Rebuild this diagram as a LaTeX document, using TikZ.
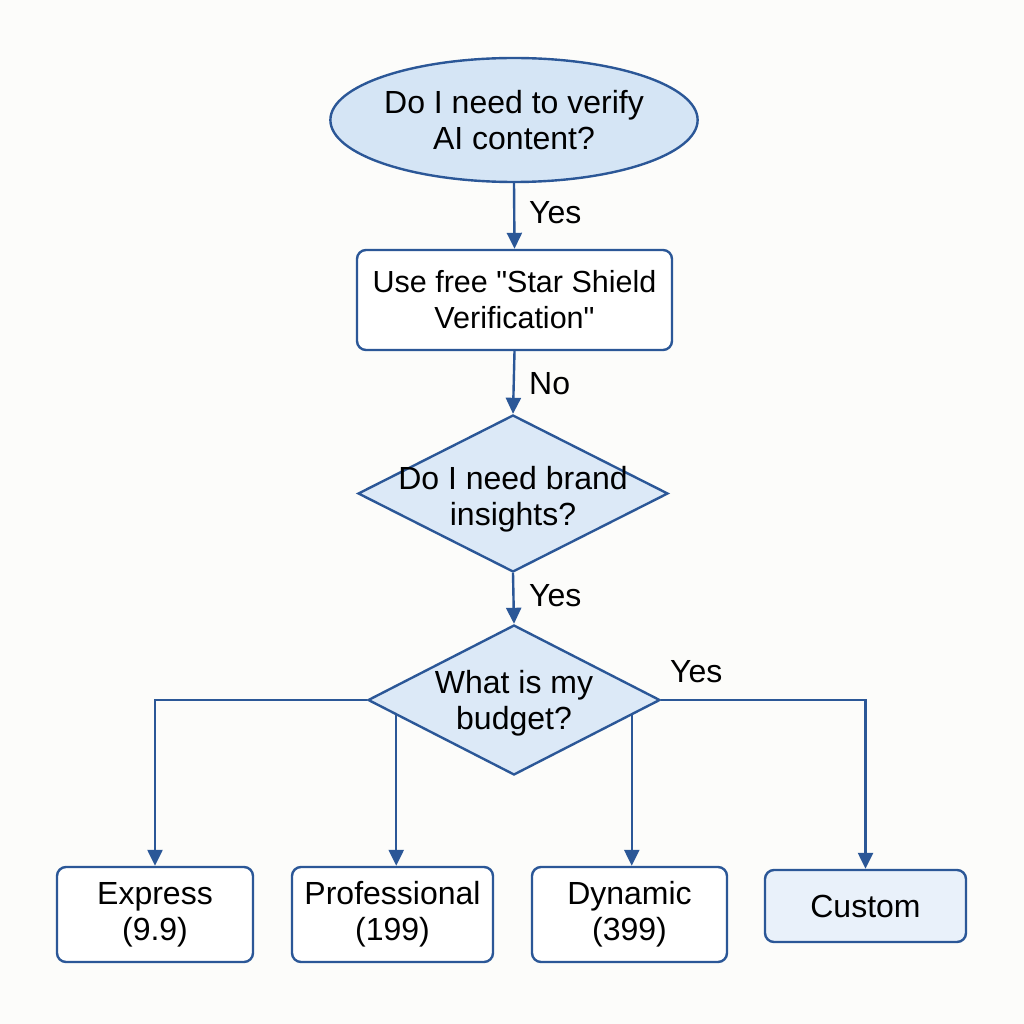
\documentclass[tikz,border=0pt]{standalone}
\usepackage{fontspec}
\newfontfamily\pf{Liberation Sans}
\usetikzlibrary{shapes.geometric,arrows.meta,calc}
\definecolor{lineblue}{HTML}{2B5797}
\definecolor{fillblue}{HTML}{D5E5F5}
\definecolor{dfill}{HTML}{DCE9F7}
\definecolor{cfill}{HTML}{E9F1FA}
\definecolor{bg}{HTML}{FCFCFA}
\begin{document}
\begin{tikzpicture}[x=1pt,y=-1pt,
  every node/.style={font=\pf\fontsize{32}{36}\selectfont, text=black},
  conn/.style={draw=lineblue, line width=2.4pt},
  arr/.style={conn, -{Triangle[length=16pt,width=15pt]}},
  startshape/.style={ellipse, draw=lineblue, line width=2.4pt, fill=fillblue, minimum width=362pt, minimum height=124pt, inner sep=0pt, align=center},
  procbox/.style={rectangle, rounded corners=9pt, draw=lineblue, line width=2.4pt, fill=white, inner sep=0pt, align=center},
  decshape/.style={diamond, draw=lineblue, line width=2.4pt, fill=dfill, inner sep=0pt},
  lbl/.style={inner sep=0pt, anchor=west}
]
\useasboundingbox (0,0) rectangle (1024,1024);
\fill[bg] (0,0) rectangle (1024,1024);

\node[startshape] (start) at (514,120) {Do I need to verify\\AI content?};
\node[procbox, minimum width=315pt, minimum height=100pt, font=\pf\fontsize{30.5}{36}\selectfont] (use) at (514.5,300) {Use free "Star Shield\\Verification"};
\node[decshape, minimum width=310pt, minimum height=157pt] (d1) at (513,493.5) {};
\node[align=center, inner sep=0pt] (d1t) at (513,499) {Do I need brand\\insights?};
\node[decshape, minimum width=292pt, minimum height=150pt] (d2) at (514,700) {};
\node[align=center, inner sep=0pt] (d2t) at (514,703) {What is my\\budget?};

\node[procbox, minimum width=196pt, minimum height=95pt] (express) at (155,914.5) {Express\\(9.9)};
\node[procbox, minimum width=201pt, minimum height=95pt] (prof) at (392.5,914.5) {Professional\\(199)};
\node[procbox, minimum width=195pt, minimum height=95pt] (dyn) at (629.5,914.5) {Dynamic\\(399)};
\node[procbox, fill=cfill, minimum width=201pt, minimum height=72pt] (custom) at (865.5,906) {Custom};

\draw[arr] (start.south) -- (use.north);
\node[lbl] (yes1) at (529,213) {Yes};
\draw[arr] (use.south) -- (d1.north);
\node[lbl] (no1) at (529,384) {No};
\draw[arr] (d1.south) -- (d2.north);
\node[lbl] (yes2) at (529,596) {Yes};

\draw[arr] (d2.west) -| (express.north);
\draw[arr] (d2.east) -| (custom.north);
\node[lbl] (yes3) at (670,672) {Yes};

\coordinate (pl) at ($(d2.west)!0.2!(d2.south)$);
\coordinate (pr) at ($(d2.east)!0.2!(d2.south)$);
\draw[arr] (pl) -- (pl |- prof.north);
\draw[arr] (pr) -- (pr |- dyn.north);
\end{tikzpicture}
\end{document}
